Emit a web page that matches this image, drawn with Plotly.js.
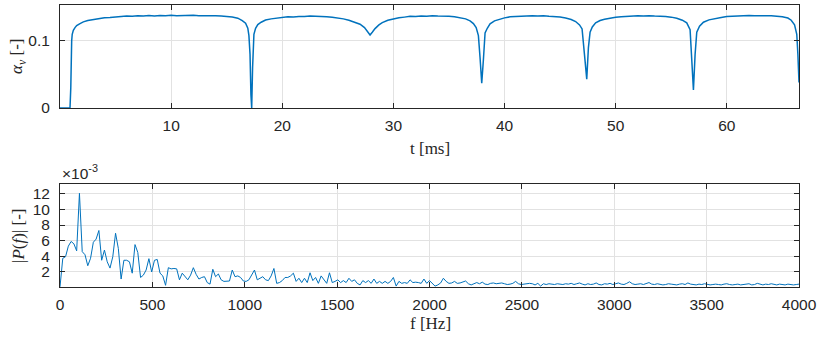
<!DOCTYPE html>
<html>
<head>
<meta charset="utf-8">
<script src="https://cdn.plot.ly/plotly-3.0.1.min.js"></script>
<style>html,body{margin:0;padding:0;background:#fff;}#chart{width:820px;height:338px;}</style>
</head>
<body>
<div id="chart"></div>
<script>
// ---- Top panel: void fraction alpha_v over time t [ms]
var t_ms = [0, 0.5, 0.9, 0.97, 1.0, 1.05, 1.1, 1.2, 1.35, 1.5, 1.8, 2.1, 2.5, 3.0, 3.5, 4.0, 4.5, 5.0, 5.5, 6.0,
  6.5, 7.0, 7.5, 8.0, 8.5, 9.0, 9.5, 10.0, 10.5, 11.0, 11.5, 12.0, 12.5, 13.0, 13.5, 14.0, 14.5, 15.0, 15.5, 16.0,
  16.4, 16.7, 16.9, 17.0, 17.1, 17.18, 17.25, 17.33, 17.45, 17.6, 17.8, 18.1, 18.5, 19.0, 19.5, 20.0, 20.5, 21.0, 21.5, 22.0,
  22.5, 23.0, 23.5, 24.0, 24.5, 25.0, 25.5, 26.0, 26.5, 27.0, 27.4, 27.7, 27.9, 28.1, 28.35, 28.7, 29.0, 29.5, 30.0, 30.5,
  31.0, 31.5, 32.0, 32.5, 33.0, 33.5, 34.0, 34.5, 35.0, 35.5, 36.0, 36.5, 36.9, 37.2, 37.45, 37.65, 37.8, 37.95, 38.1, 38.25,
  38.45, 38.7, 39.1, 39.6, 40.0, 40.5, 41.0, 41.5, 42.0, 42.5, 43.0, 43.5, 44.0, 44.5, 45.0, 45.5, 46.0, 46.4, 46.75, 46.98,
  47.1, 47.25, 47.4, 47.55, 47.7, 47.9, 48.2, 48.6, 49.0, 49.5, 50.0, 50.5, 51.0, 51.5, 52.0, 52.5, 53.0, 53.5, 54.0, 54.5,
  55.0, 55.5, 56.0, 56.4, 56.7, 56.85, 57.0, 57.15, 57.3, 57.55, 57.9, 58.4, 59.0, 59.5, 60.0, 60.5, 61.0, 61.5, 62.0, 62.5,
  63.0, 63.5, 64.0, 64.5, 65.0, 65.5, 65.8, 66.1, 66.3, 66.4, 66.5];
var alpha_v = [0, 0, 0, 0.03, 0.07, 0.10, 0.110, 0.116, 0.120, 0.123, 0.126, 0.1285, 0.1305, 0.1322, 0.1335, 0.1348, 0.1352, 0.1362, 0.1366, 0.1371,
  0.1368, 0.1376, 0.1372, 0.1379, 0.1373, 0.1381, 0.1376, 0.1383, 0.1377, 0.1382, 0.1378, 0.1384, 0.1377, 0.1381, 0.1376, 0.1378, 0.1371, 0.1369, 0.1358, 0.1340,
  0.1305, 0.1265, 0.119, 0.108, 0.080, 0.020, 0.0, 0.060, 0.110, 0.119, 0.1245, 0.128, 0.1312, 0.1330, 0.1342, 0.1350, 0.1361, 0.1358, 0.1367, 0.1364,
  0.1372, 0.1368, 0.1371, 0.1363, 0.1355, 0.1347, 0.1330, 0.1310, 0.1285, 0.1250, 0.1200, 0.1140, 0.1090, 0.1130, 0.1185, 0.1240, 0.1275, 0.1310, 0.1330, 0.1345,
  0.1356, 0.1368, 0.1364, 0.1374, 0.1369, 0.1376, 0.1371, 0.1375, 0.1368, 0.1362, 0.1350, 0.1330, 0.1300, 0.1260, 0.1200, 0.1080, 0.0750, 0.0370, 0.0720, 0.1120,
  0.1190, 0.1255, 0.1300, 0.1330, 0.1345, 0.1360, 0.1366, 0.1373, 0.1368, 0.1376, 0.1371, 0.1377, 0.1369, 0.1366, 0.1357, 0.1342, 0.1320, 0.1290, 0.1240, 0.1180,
  0.1000, 0.0700, 0.0430, 0.0900, 0.1130, 0.1210, 0.1270, 0.1305, 0.1325, 0.1342, 0.1355, 0.1362, 0.1370, 0.1367, 0.1376, 0.1372, 0.1378, 0.1371, 0.1373, 0.1365,
  0.1356, 0.1340, 0.1310, 0.1270, 0.1170, 0.0800, 0.0270, 0.0800, 0.1130, 0.1220, 0.1280, 0.1315, 0.1340, 0.1352, 0.1365, 0.1370, 0.1376, 0.1372, 0.1380, 0.1375,
  0.1381, 0.1376, 0.1378, 0.1371, 0.1360, 0.1342, 0.1310, 0.1240, 0.1100, 0.0800, 0.0380];
var tTicks = [10, 20, 30, 40, 50, 60];
var aTicks = [0, 0.1];
var aTickText = ['0', '0.1'];

// ---- Bottom panel: single-sided spectrum |P(f)| in units of 1e-3
var df_Hz = 4000 / 266; // frequency resolution of the spectrum
var P_e3 = [
  0.1, 3.75, 3.95, 5.3, 5.9, 5.6, 4.7, 12.05, 4.6, 4.2,
  2.8, 3.75, 5.8, 6.2, 7.3, 3.5, 4.8, 3.3, 2.5, 3.95,
  6.95, 5.0, 1.1, 3.5, 3.5, 3.3, 1.85, 5.5, 4.5, 1.3,
  1.6, 2.25, 3.7, 2.0, 3.5, 3.6, 1.85, 1.5, 0.3, 2.55,
  2.4, 2.45, 2.4, 1.0, 1.85, 1.4, 1.0, 1.6, 2.55, 1.7,
  1.1, 1.3, 1.4, 0.65, 0.45, 2.35, 1.4, 1.75, 1.0, 0.8,
  0.8, 0.85, 2.25, 1.4, 1.5, 1.3, 0.85, 0.8, 1.0, 1.6,
  2.25, 1.0, 1.2, 1.4, 1.0, 0.9, 1.5, 2.45, 0.55, 0.65,
  0.9, 1.3, 1.3, 1.5, 1.85, 0.8, 1.2, 0.65, 1.2, 0.65,
  1.9, 0.9, 1.3, 0.55, 1.5, 1.0, 0.55, 1.9, 0.65, 0.8,
  1.0, 0.65, 0.9, 0.65, 1.2, 0.8, 1.0, 0.55, 0.35, 0.9,
  0.65, 0.9, 0.55, 1.1, 0.55, 0.8, 0.55, 0.8, 0.55, 0.8,
  1.3, 0.2, 0.8, 0.55, 0.65, 0.55, 1.0, 0.65, 0.7, 0.65,
  0.55, 1.1, 0.55, 0.9, 0.6, 0.2, 0.35, 0.6, 1.2, 0.8,
  0.55, 0.6, 0.8, 0.55, 0.6, 0.7, 0.85, 0.5, 0.35, 0.5,
  0.65, 0.5, 0.7, 0.45, 0.4, 0.55, 0.6, 0.5, 0.55, 0.6,
  0.5, 0.4, 0.45, 0.55, 0.8, 0.5, 0.4, 0.45, 0.45, 0.55,
  0.5, 0.35, 0.55, 0.2, 0.5, 0.4, 0.5, 0.45, 0.4, 0.5,
  0.45, 0.4, 0.5, 0.45, 0.55, 0.4, 0.5, 0.6, 0.45, 0.35,
  0.5, 0.4, 0.45, 0.6, 0.4, 0.35, 0.5, 0.45, 0.55, 0.4,
  0.5, 0.6, 0.45, 0.4, 0.55, 0.75, 0.5, 0.4, 0.45, 0.5,
  0.4, 0.55, 0.65, 0.45, 0.4, 0.5, 0.45, 0.35, 0.4, 0.5,
  0.45, 0.4, 0.35, 0.45, 0.5, 0.4, 0.6, 0.45, 0.4, 0.35,
  0.45, 0.4, 0.5, 0.45, 0.35, 0.4, 0.45, 0.4, 0.35, 0.45,
  0.5, 0.4, 0.35, 0.4, 0.45, 0.35, 0.4, 0.45, 0.5, 0.35,
  0.4, 0.55, 0.4, 0.35, 0.45, 0.4, 0.5, 0.4, 0.35, 0.45,
  0.4, 0.35, 0.45, 0.4, 0.35, 0.4, 0.45];
var f_Hz = P_e3.map(function (_, k) { return k * df_Hz; });
var fTicks = [0, 500, 1000, 1500, 2000, 2500, 3000, 3500, 4000];
var pTicks = [2, 4, 6, 8, 10, 12];

var lineColor = '#0072BD';
var axisCol = '#262626';
var tickFont = {family: 'Liberation Sans, Arial, sans-serif', size: 15.5, color: axisCol};
var serif = {family: 'Liberation Serif, Times New Roman, serif', size: 17, color: axisCol};

function merge(a, extra) { for (var k in extra) a[k] = extra[k]; return a; }
function axisBase(extra) {
  return merge({
    showline: true, linecolor: axisCol, linewidth: 1, mirror: 'ticks',
    ticks: 'inside', ticklen: 5, tickcolor: axisCol, tickwidth: 1,
    showgrid: true, gridcolor: '#e2e2e2', gridwidth: 1,
    zeroline: false, tickfont: tickFont, fixedrange: true
  }, extra);
}
// label-only overlay axis (transparent outside ticks push labels away from the box)
function labelAxis(extra) {
  return merge({
    showline: false, showgrid: false, zeroline: false,
    ticks: 'outside', tickcolor: 'rgba(0,0,0,0)', tickfont: tickFont, fixedrange: true
  }, extra);
}

var traces = [
  {x: t_ms, y: alpha_v, type: 'scatter', mode: 'lines', line: {color: lineColor, width: 1.5}, xaxis: 'x', yaxis: 'y', hoverinfo: 'skip'},
  {x: f_Hz, y: P_e3, type: 'scatter', mode: 'lines', line: {color: lineColor, width: 1}, xaxis: 'x2', yaxis: 'y2', hoverinfo: 'skip'},
  {x: [], y: [], type: 'scatter', mode: 'lines', xaxis: 'x3', yaxis: 'y3', hoverinfo: 'skip'},
  {x: [], y: [], type: 'scatter', mode: 'lines', xaxis: 'x4', yaxis: 'y4', hoverinfo: 'skip'}
];

var W = 739, H = 282, L = 60, T = 5;
function px2x(px) { return (px - L) / W; }
function py2y(py) { return (T + H - py) / H; }

var layout = {
  width: 820, height: 338,
  margin: {l: 60, r: 21, t: 5, b: 51},
  paper_bgcolor: '#ffffff', plot_bgcolor: '#ffffff',
  showlegend: false,
  xaxis: axisBase({domain: [0, 1], anchor: 'y', range: [0, 66.5], tickmode: 'array', tickvals: tTicks, showticklabels: false}),
  yaxis: axisBase({domain: [0.6348, 1], anchor: 'x', range: [0, 0.1537], tickmode: 'array', tickvals: aTicks, showticklabels: false}),
  xaxis2: axisBase({domain: [0, 1], anchor: 'y2', range: [0, 4000], tickmode: 'array', tickvals: fTicks, showticklabels: false}),
  yaxis2: axisBase({domain: [0, 0.3642], anchor: 'x2', range: [0.084, 13.2], tickmode: 'array', tickvals: pTicks, showticklabels: false}),
  xaxis3: labelAxis({overlaying: 'x', anchor: 'y3', side: 'bottom', range: [0, 66.5], tickmode: 'array', tickvals: tTicks, ticktext: tTicks.map(String), ticklen: 3}),
  yaxis3: labelAxis({overlaying: 'y', anchor: 'x3', side: 'left', range: [0, 0.1537], tickmode: 'array', tickvals: aTicks, ticktext: aTickText, ticklen: 6}),
  xaxis4: labelAxis({overlaying: 'x2', anchor: 'y4', side: 'bottom', range: [0, 4000], tickmode: 'array', tickvals: fTicks, ticktext: fTicks.map(String), ticklen: 3}),
  yaxis4: labelAxis({overlaying: 'y2', anchor: 'x4', side: 'left', range: [0.084, 13.2], tickmode: 'array', tickvals: pTicks, ticktext: pTicks.map(String), ticklen: 6}),
  annotations: [
    {text: 't [ms]', xref: 'paper', yref: 'paper', x: px2x(430), y: py2y(148), xanchor: 'center', yanchor: 'middle', showarrow: false, font: serif},
    {text: 'f [Hz]', xref: 'paper', yref: 'paper', x: px2x(430), y: py2y(323), xanchor: 'center', yanchor: 'middle', showarrow: false, font: serif},
    {text: '<i>α</i><sub><i>v</i></sub> [-]', xref: 'paper', yref: 'paper', x: px2x(18), y: py2y(57), xanchor: 'center', yanchor: 'middle', textangle: -90, showarrow: false, font: serif},
    {text: '|<i>P</i>(<i>f</i>)| [-]', xref: 'paper', yref: 'paper', x: px2x(18), y: py2y(236), xanchor: 'center', yanchor: 'middle', textangle: -90, showarrow: false, font: serif},
    {text: '×10<sup>-3</sup>', xref: 'paper', yref: 'paper', x: px2x(60), y: py2y(172), xanchor: 'left', yanchor: 'middle', showarrow: false, font: {family: 'Liberation Sans, Arial, sans-serif', size: 15.5, color: axisCol}}
  ]
};

Plotly.newPlot('chart', traces, layout, {staticPlot: true, displayModeBar: false});
</script>
</body>
</html>
